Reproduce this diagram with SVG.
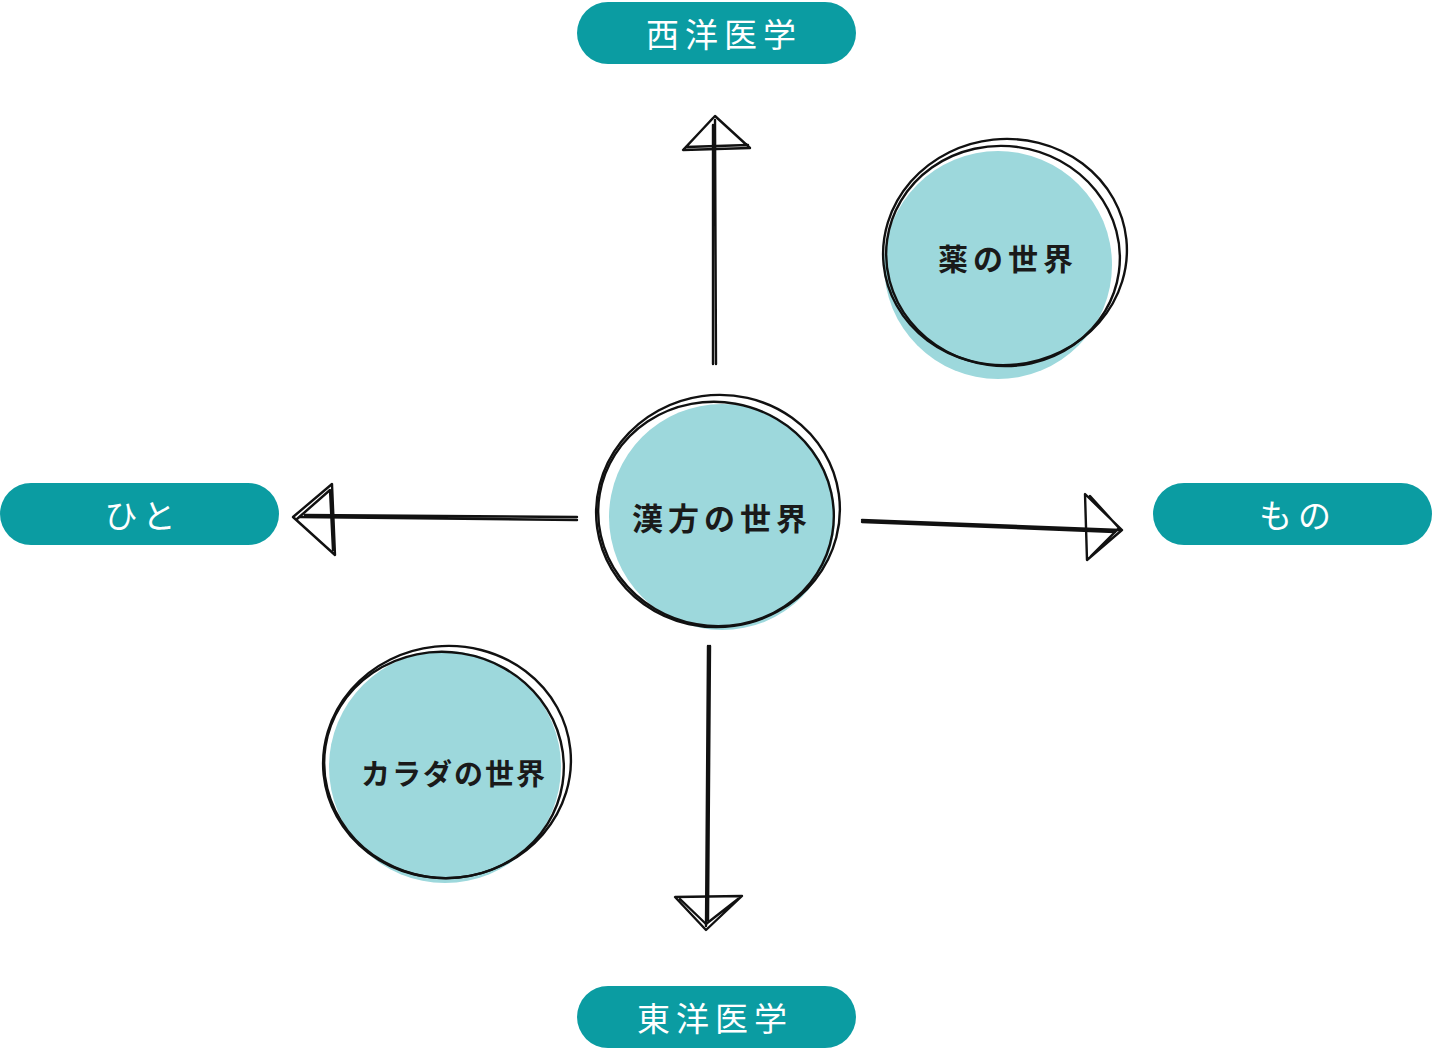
<svg xmlns="http://www.w3.org/2000/svg" width="1432" height="1049" viewBox="0 0 1432 1049">
<style>
.pill{fill:#0b9ca2}
.pt{fill:#fff;font-family:"Noto Sans CJK JP","Noto Sans",sans-serif;font-size:33px;letter-spacing:6px;text-anchor:middle;dominant-baseline:central}
.cf{fill:#9dd8dc}
.co{fill:none;stroke:#111;stroke-width:2.4}
.ct{fill:#1a1a1a;font-family:"Noto Sans CJK JP","Noto Sans",sans-serif;font-weight:bold;font-size:30px;letter-spacing:5px;text-anchor:middle;dominant-baseline:central}
.ln{fill:none;stroke:#111;stroke-width:2.4;stroke-linejoin:round;stroke-linecap:round}
</style>
<rect width="1432" height="1049" fill="#fff"/>
<g id="node-seiyo"><rect class="pill" x="577" y="2" width="279" height="62" rx="31"/><text class="pt" x="724" y="33">西洋医学</text></g>
<g id="node-toyo"><rect class="pill" x="577" y="986" width="279" height="62" rx="31"/><text class="pt" x="715" y="1017">東洋医学</text></g>
<g id="node-hito"><rect class="pill" x="0" y="483" width="279" height="62" rx="31"/><text class="pt" x="143" y="514">ひと</text></g>
<g id="node-mono"><rect class="pill" x="1153" y="483" width="279" height="62" rx="31"/><text class="pt" x="1298" y="514">もの</text></g>
<g id="node-kampo">
<circle class="cf" cx="722" cy="517" r="113"/>
<ellipse class="co" cx="718" cy="511" rx="122" ry="116" transform="rotate(-8 718 511)"/>
<ellipse class="co" cx="716" cy="514" rx="118" ry="112" transform="rotate(10 716 514)"/>
<text class="ct" x="722" y="516" style="font-size:31px">漢方の世界</text>
</g>
<g id="node-kusuri">
<circle class="cf" cx="998" cy="265" r="114"/>
<ellipse class="co" cx="1005" cy="252" rx="122" ry="113" transform="rotate(-6 1005 252)"/>
<ellipse class="co" cx="1003" cy="256" rx="117" ry="110" transform="rotate(8 1003 256)"/>
<text class="ct" x="1008" y="257">薬の世界</text>
</g>
<g id="node-karada">
<circle class="cf" cx="445" cy="767" r="116"/>
<ellipse class="co" cx="447" cy="762" rx="124" ry="116" transform="rotate(-6 447 762)"/>
<ellipse class="co" cx="444" cy="765" rx="120" ry="113" transform="rotate(9 444 765)"/>
<text class="ct" x="454" y="772" style="font-size:29px;letter-spacing:2px">カラダの世界</text>
</g>
<g id="connectors">
<path class="ln" d="M716 364 L715 120 M713 364 L713 125"/>
<path class="ln" d="M715 116 L683 150 L750 148 Z M713 118 L686 147 L748 145"/>
<path class="ln" d="M708 646 L706 926 M710 646 L708 920"/>
<path class="ln" d="M675 897 L742 896 L706 930 Z M680 899 L706 924 L738 899"/>
<path class="ln" d="M577 520 L300 517 M577 517 L305 515"/>
<path class="ln" d="M293 517 L332 484 L335 555 Z M297 519 L330 490 L333 550"/>
<path class="ln" d="M862 520 L1120 530 M862 522 L1115 532"/>
<path class="ln" d="M1085 494 L1087 560 L1122 530 Z M1090 496 L1119 528 L1091 556"/>
</g>
</svg>
